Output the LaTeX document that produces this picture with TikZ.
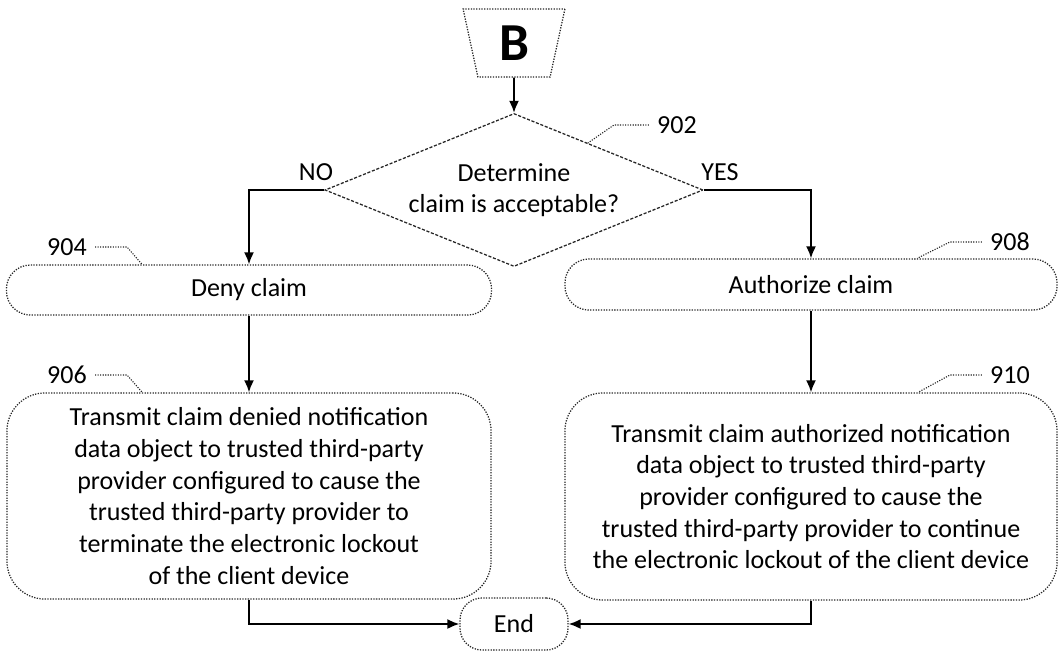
\documentclass[tikz,border=0pt]{standalone}
\usepackage{fontspec}
\setmainfont{Carlito}
\usetikzlibrary{shapes.geometric,arrows.meta,calc}

\begin{document}
\begin{tikzpicture}[x=0.025cm,y=-0.025cm,
    stepbox/.style={draw=black!85,line width=0.9pt,densely dotted,rounded corners=0.6cm,align=center,inner sep=0pt,font=\fontsize{18.5}{22.5}\selectfont},
    decision/.style={diamond,draw=black!85,line width=0.9pt,dash pattern=on 2.2pt off 1.2pt,aspect=2.47,inner sep=0pt,align=center,font=\fontsize{18.5}{22.5}\selectfont},
    connector/.style={draw=black,line width=1.3pt,-{Latex[length=3mm,width=2.5mm]}},
    refnum/.style={inner xsep=0.2cm,inner ysep=0pt,font=\fontsize{18.5}{20}\selectfont},
    leader/.style={draw=black!85,line width=0.8pt,densely dotted}]
  \useasboundingbox (0,0) rectangle (1058,653);

  % Off-page connector at the top
  \node[trapezium,trapezium stretches=true,shape border rotate=180,trapezium angle=79.6,
        minimum width=2.55cm,minimum height=1.7cm,draw=black!85,line width=0.9pt,densely dotted,
        font=\fontsize{38}{40}\selectfont\bfseries] (conB) at (514,43) {B};

  % Decision
  \node[decision,minimum width=9.45cm,minimum height=3.825cm] (dec) at (514,190) {Determine\\claim is acceptable?};
  \node (no) at (316,172) {\fontsize{18.5}{20}\selectfont NO};
  \node (yes) at (720,172) {\fontsize{18.5}{20}\selectfont YES};

  % Steps
  \node[stepbox,minimum width=12.125cm,minimum height=1.25cm] (deny) at (249,290) {Deny claim};
  \node[stepbox,minimum width=12.3cm,minimum height=1.275cm] (auth) at (811,284.5) {Authorize claim};
  \node[stepbox,rounded corners=0.95cm,minimum width=12.1cm,minimum height=5.15cm] (denied) at (249,496)
    {Transmit claim denied notification\\data object to trusted third-party\\provider configured to cause the\\trusted third-party provider to\\terminate the electronic lockout\\of the client device};
  \node[stepbox,rounded corners=0.95cm,minimum width=12.3cm,minimum height=5.175cm] (authd) at (811,496.5)
    {Transmit claim authorized notification\\data object to trusted third-party\\provider configured to cause the\\trusted third-party provider to continue\\the electronic lockout of the client device};
  \node[stepbox,rounded corners=0.55cm,minimum width=2.7cm,minimum height=1.3cm] (end) at (514,624) {End};

  % Connectors
  \draw[connector] (conB.south) -- (dec.north);
  \draw[connector] (dec.west) -| (deny.north);
  \draw[connector] (dec.east) -| (auth.north);
  \draw[connector] (deny) -- (denied);
  \draw[connector] (auth) -- (authd);
  \draw[connector] (denied.south) |- (end.west);
  \draw[connector] (authd.south) |- (end.east);

  % Reference numerals
  \node[refnum] (n902) at (677,125) {902};
  \draw[leader] (n902.west) -- ++(-35,0) -- ($(dec.north)!0.39!(dec.east)$);
  \node[refnum] (n904) at (67,247) {904};
  \draw[leader] (n904.east) -- ++(32,0) -- ($(deny.north west)!0.28!(deny.north east)$);
  \node[refnum] (n906) at (67,375) {906};
  \draw[leader] (n906.east) -- ++(32,0) -- ($(denied.north west)!0.28!(denied.north east)$);
  \node[refnum] (n908) at (1010,242) {908};
  \draw[leader] (n908.west) -- ++(-32,0) -- ($(auth.north west)!0.715!(auth.north east)$);
  \node[refnum] (n910) at (1010,375) {910};
  \draw[leader] (n910.west) -- ++(-32,0) -- ($(authd.north west)!0.717!(authd.north east)$);
\end{tikzpicture}
\end{document}
